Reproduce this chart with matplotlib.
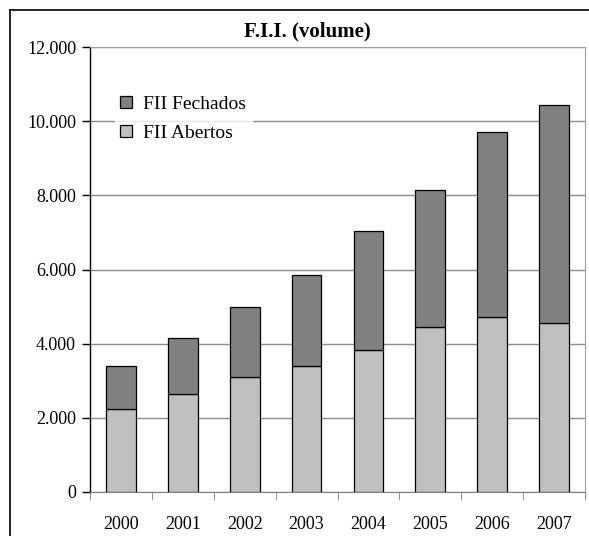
import matplotlib.pyplot as plt
import matplotlib.ticker as mticker
from matplotlib.lines import Line2D
import numpy as np

plt.rcParams['font.family'] = ['Liberation Serif', 'DejaVu Serif']

# FII volume by year (stacked: abertos at the bottom, fechados on top)
anos = ["2000", "2001", "2002", "2003", "2004", "2005", "2006", "2007"]
fii_abertos = [2250, 2650, 3100, 3400, 3840, 4460, 4730, 4550]
fii_total = [3410, 4160, 4990, 5840, 7030, 8150, 9720, 10440]
fii_fechados = [t - a for t, a in zip(fii_total, fii_abertos)]

fig = plt.figure(figsize=(5.89, 5.36), dpi=100)
ax = fig.add_axes([90 / 589, 44 / 536, 495 / 589, 445 / 536])

x = np.arange(len(anos))
w = 0.48
b1 = ax.bar(x, fii_abertos, w, color="#c0c0c0", edgecolor="black", linewidth=0.9,
            label="FII Abertos", zorder=3)
b2 = ax.bar(x, fii_fechados, w, bottom=fii_abertos, color="#808080", edgecolor="black",
            linewidth=0.9, label="FII Fechados", zorder=3)

ax.set_xlim(-0.5, len(anos) - 0.5)
ax.set_ylim(0, 12000)
ax.yaxis.set_major_locator(mticker.MultipleLocator(2000))
ax.yaxis.set_major_formatter(mticker.FuncFormatter(lambda v, p: f"{int(v):,}".replace(",", ".")))
ax.grid(axis="y", color="#8c8c8c", linewidth=1.0, zorder=0)

ax.set_xticks(x)
ax.set_xticklabels(anos)
ax.set_xticks(np.arange(len(anos) + 1) - 0.5, minor=True)
ax.tick_params(axis="x", which="major", length=0, pad=17, labelsize=13)
ax.tick_params(axis="x", which="minor", length=6, color="#808080", direction="out")
ax.tick_params(axis="y", length=6, width=1, direction="out", labelsize=13, pad=4)

ax.spines["left"].set_color("black")
ax.spines["left"].set_linewidth(1.0)
ax.spines["bottom"].set_color("#808080")
ax.spines["top"].set_color("#a0a0a0")
ax.spines["right"].set_color("#a0a0a0")

fig.text(307 / 589, 1 - 31 / 536, "F.I.I. (volume)", fontsize=15, fontweight="bold",
         ha="center", va="center")

leg = ax.legend(handles=[b2, b1], loc="upper left", bbox_to_anchor=(0.03, 0.925),
                frameon=True, fontsize=14, handlelength=0.6, handleheight=0.6,
                handletextpad=0.55, labelspacing=0.6, borderpad=0.3)
leg.get_frame().set_facecolor("white")
leg.get_frame().set_edgecolor("white")
leg.set_zorder(5)

# outer chart frame (left and top edges)
fig.add_artist(Line2D([10 / 589, 10 / 589], [0, 1 - 10 / 536], color="black", linewidth=1.2))
fig.add_artist(Line2D([10 / 589, 1], [1 - 10 / 536, 1 - 10 / 536], color="black", linewidth=1.2))

fig.savefig("out.png", dpi=100)
